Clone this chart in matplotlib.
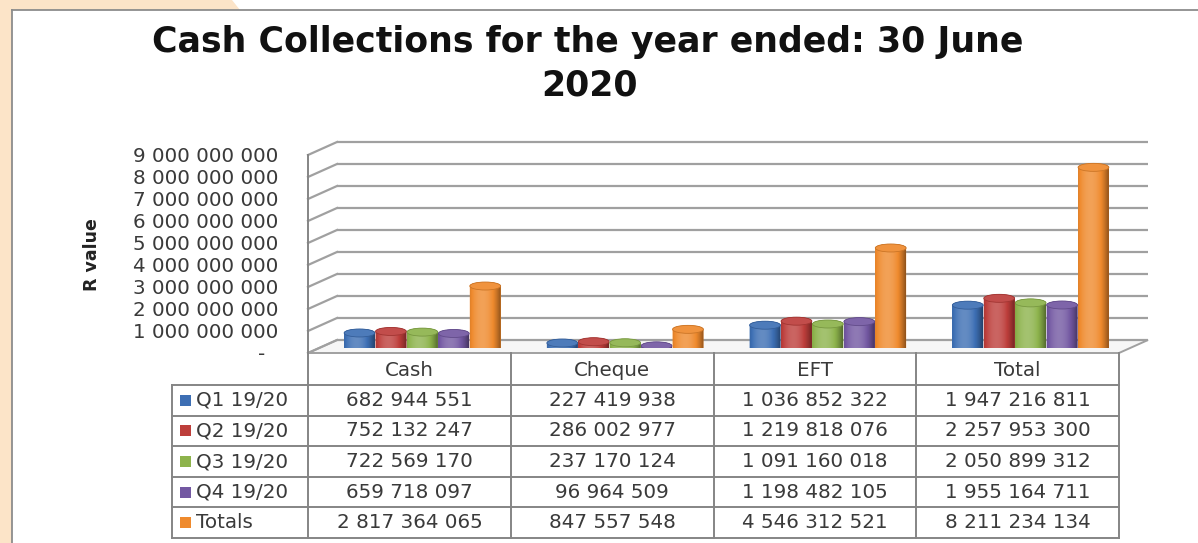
import numpy as np
import matplotlib.pyplot as plt
from matplotlib.patches import Rectangle, Ellipse, Polygon, PathPatch
from matplotlib.path import Path
from matplotlib.colors import to_rgb

# data
categories = ['Cash', 'Cheque', 'EFT', 'Total']
series = ['Q1 19/20', 'Q2 19/20', 'Q3 19/20', 'Q4 19/20', 'Totals']
q1 = [682944551, 227419938, 1036852322, 1947216811]
q2 = [752132247, 286002977, 1219818076, 2257953300]
q3 = [722569170, 237170124, 1091160018, 2050899312]
q4 = [659718097, 96964509, 1198482105, 1955164711]
totals = [2817364065, 847557548, 4546312521, 8211234134]
values = [q1, q2, q3, q4, totals]
colors = ['#3d6fb4', '#bd3e3b', '#8db34c', '#7358a2', '#ef8a2d']
yticks = [0, 1e9, 2e9, 3e9, 4e9, 5e9, 6e9, 7e9, 8e9, 9e9]
ytick_labels = ['-  ', '1 000 000 000', '2 000 000 000', '3 000 000 000', '4 000 000 000',
                '5 000 000 000', '6 000 000 000', '7 000 000 000', '8 000 000 000', '9 000 000 000']

W, H = 1198, 543
plt.rcParams['font.family'] = 'DejaVu Sans'
fig = plt.figure(figsize=(W / 100, H / 100), dpi=100)
fig.patch.set_facecolor('white')

text_col = '#3a3a3a'
grid_col = '#a0a0a0'


def box(left, bottom_py, width, height):
    return [left / W, 1 - bottom_py / H, width / W, height / H]


def to_px(ax, x, y):
    d = ax.transData.transform((x, y))
    return d[0], H - d[1]


def shade(c, k):
    c = np.array(to_rgb(c))
    if k >= 0:
        return c + (1 - c) * k
    return c * (1 + k)


# background layer in pixel coords
ax_bg = fig.add_axes([0, 0, 1, 1])
ax_bg.set_xlim(0, W)
ax_bg.set_ylim(H, 0)
ax_bg.axis('off')
ax_bg.add_patch(Rectangle((0, 0), 12, H, color='#fce4c8', lw=0))
ax_bg.add_patch(Polygon([(0, 0), (232, 0), (240, 10), (0, 10)], color='#fce4c8', lw=0))
ax_bg.plot([12, 12], [10, H], color='#8c8c8c', lw=1.3)
ax_bg.plot([12, W], [10, 10], color='#8c8c8c', lw=1.3)

# three planes of the 3d look: back wall, bars at mid depth, front edge
ax_back = fig.add_axes(box(337, 340, 811, 198))
ax_bars = fig.add_axes(box(321, 348, 811, 198))
ax_front = fig.add_axes(box(308, 353, 811, 198))
for a in (ax_back, ax_bars, ax_front):
    a.set_xlim(-0.5, 3.5)
    a.set_ylim(0, 9e9)
    a.patch.set_visible(False)
    for s in a.spines.values():
        s.set_visible(False)
    a.set_xticks([])
    a.tick_params(length=0)
ax_back.set_yticks([])
ax_bars.set_yticks([])

# back wall gridlines
ax_back.hlines(yticks, -0.5, 3.5, color=grid_col, lw=1.6, clip_on=False)

# side wall and floor
for v in yticks:
    x0, y0 = to_px(ax_front, -0.5, v)
    x1, y1 = to_px(ax_back, -0.5, v)
    ax_bg.plot([x0, x1], [y0, y1], color=grid_col, lw=1.6)
floor = [to_px(ax_front, -0.5, 0), to_px(ax_back, -0.5, 0),
         to_px(ax_back, 3.5, 0), to_px(ax_front, 3.5, 0)]
ax_bg.add_patch(Polygon(floor, closed=True, facecolor='#f6f6f6', edgecolor=grid_col, lw=1.4))

# y tick labels
ax_front.set_yticks(yticks, ytick_labels)
ax_front.tick_params(axis='y', pad=21.5, labelsize=14.3, labelcolor=text_col)

# cylinders
bw = 0.152
step = 0.155
e_h = 8 * 9e9 / 198  # cap height in value units (about 8 px)
u = np.linspace(0, 1, 64)
t = np.linspace(0, np.pi, 40)
for si in range(len(series)):
    xs = np.arange(len(categories)) + (si - 2) * step
    bars = ax_bars.bar(xs, values[si], width=bw, color=colors[si], lw=0, zorder=2)
    for rect in bars:
        x0 = rect.get_x()
        w = rect.get_width()
        h = rect.get_height()
        xc = x0 + w / 2
        lower = np.column_stack([xc - w / 2 * np.cos(t), -e_h / 2 * np.sin(t)])
        upper = np.column_stack([xc + w / 2 * np.cos(t), h + e_h / 2 * np.sin(t)])
        verts = np.vstack([lower, upper, lower[:1]])
        body = PathPatch(Path(verts, closed=True), transform=ax_bars.transData,
                         facecolor=colors[si], lw=0, zorder=3)
        ax_bars.add_patch(body)
        k = 0.2 - 0.6 * ((u - 0.4) / 0.6) ** 2
        grad = np.array([[shade(colors[si], kk) for kk in k]])
        im = ax_bars.imshow(grad, extent=[x0, x0 + w, -e_h / 2, h + e_h / 2],
                            aspect='auto', interpolation='bilinear', zorder=3.5)
        im.set_clip_path(body)
        ax_bars.add_patch(Ellipse((xc, h), w, e_h, facecolor=shade(colors[si], 0.08),
                                  edgecolor=shade(colors[si], -0.15), lw=0.6, zorder=4))
ax_bars.set_xlim(-0.5, 3.5)
ax_bars.set_ylim(0, 9e9)

# data table
col_edges = [to_px(ax_front, e, 0)[0] for e in (-0.5, 0.5, 1.5, 2.5, 3.5)]
header_top = to_px(ax_front, -0.5, 0)[1]
row_edges = [385, 415.6, 446.2, 476.8, 507.4, 538]
label_left = 172
line_col = '#858585'

ax_bg.plot([col_edges[0], col_edges[0]], [to_px(ax_front, -0.5, 9e9)[1], row_edges[-1]],
           color=line_col, lw=1.4)
for xe in col_edges[1:]:
    ax_bg.plot([xe, xe], [header_top, row_edges[-1]], color=line_col, lw=1.4)
ax_bg.plot([label_left, label_left], [row_edges[0], row_edges[-1]], color=line_col, lw=1.4)
for ye in row_edges:
    ax_bg.plot([label_left, col_edges[-1]], [ye, ye], color=line_col, lw=1.4)

for i, cat in enumerate(categories):
    cx = (col_edges[i] + col_edges[i + 1]) / 2
    ax_bg.text(cx, (header_top + row_edges[0]) / 2 + 1, cat, ha='center', va='center',
               fontsize=14.3, color=text_col)
    for si in range(len(series)):
        cy = (row_edges[si] + row_edges[si + 1]) / 2
        ax_bg.text(cx, cy, f'{values[si][i]:,}'.replace(',', ' '), ha='center', va='center',
                   fontsize=14.3, color=text_col)

for si, name in enumerate(series):
    cy = (row_edges[si] + row_edges[si + 1]) / 2
    ax_bg.add_patch(Rectangle((180, cy - 5.5), 11, 11, facecolor=colors[si], lw=0))
    ax_bg.text(196, cy, name, ha='left', va='center', fontsize=14.3, color=text_col)

# titles
ax_bg.text(588, 52, 'Cash Collections for the year ended: 30 June', ha='center', va='baseline',
           fontsize=25, fontweight='bold', color='#111111')
ax_bg.text(590, 96, '2020', ha='center', va='baseline', fontsize=25, fontweight='bold',
           color='#111111')
ax_bg.text(92, 255, 'R value', rotation=90, ha='center', va='center', fontsize=12.5,
           fontweight='bold', color='#222222')

fig.savefig('out.png', dpi=100)
